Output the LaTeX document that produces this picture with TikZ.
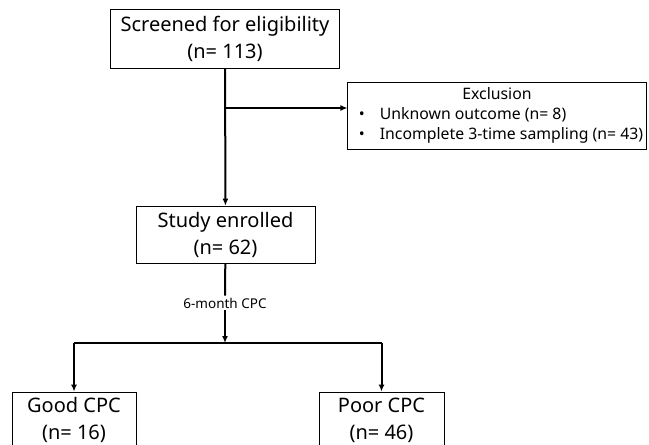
\documentclass[tikz,border=0pt]{standalone}
\usepackage{fontspec}
\setmainfont{Noto Sans}
\usetikzlibrary{arrows.meta,positioning}

\begin{document}
\begin{tikzpicture}[
  x=1pt, y=-1pt,
  >={Latex[length=7pt,width=6pt]},
  flow/.style={line width=2pt},
  box/.style={draw, line width=0.8pt, align=center, inner sep=0pt, font=\fontsize{20}{27}\selectfont},
  exclbox/.style={draw, line width=0.8pt, inner sep=0pt, font=\fontsize{15.8}{20}\selectfont},
  note/.style={font=\fontsize{13.5}{15}\selectfont, fill=white, inner sep=2pt}
]
\useasboundingbox (0,0) rectangle (649,445);

\node[box, minimum width=229pt, minimum height=59pt] (screen) at (225,38.5) {Screened for eligibility\\(n= 113)};
\node[box, minimum width=179pt, minimum height=57pt] (study) at (225.5,234.5) {Study enrolled\\(n= 62)};
\node[exclbox, minimum width=298pt, minimum height=67pt] (excl) at (497,115.5) {%
  \begin{tabular}{@{\hspace{11pt}}l@{\hspace{15pt}}l@{\hspace{3pt}}}
  \multicolumn{2}{c}{Exclusion}\\
  \textbullet & Unknown outcome (n= 8)\\
  \textbullet & Incomplete 3-time sampling (n= 43)
  \end{tabular}};
\node[box, minimum width=124pt, minimum height=56pt] (good) at (74,420) {Good CPC\\(n= 16)};
\node[box, minimum width=125pt, minimum height=56pt] (poor) at (381.5,420) {Poor CPC\\(n= 46)};
\node[note] (cpc) at (225,303) {6-month CPC};

\coordinate (branch) at (225,108);
\coordinate (fork) at (225,343);

\draw[flow, ->] (screen) -- (study);
\draw[flow, ->] (branch) -- (branch -| excl.west);
\draw[flow] (study) -- (cpc);
\draw[flow, ->] (cpc) -- (fork);
\draw[flow] (good.north |- fork) -- (poor.north |- fork);
\draw[flow, ->] (good.north |- fork) -- (good.north);
\draw[flow, ->] (poor.north |- fork) -- (poor.north);
\end{tikzpicture}
\end{document}
